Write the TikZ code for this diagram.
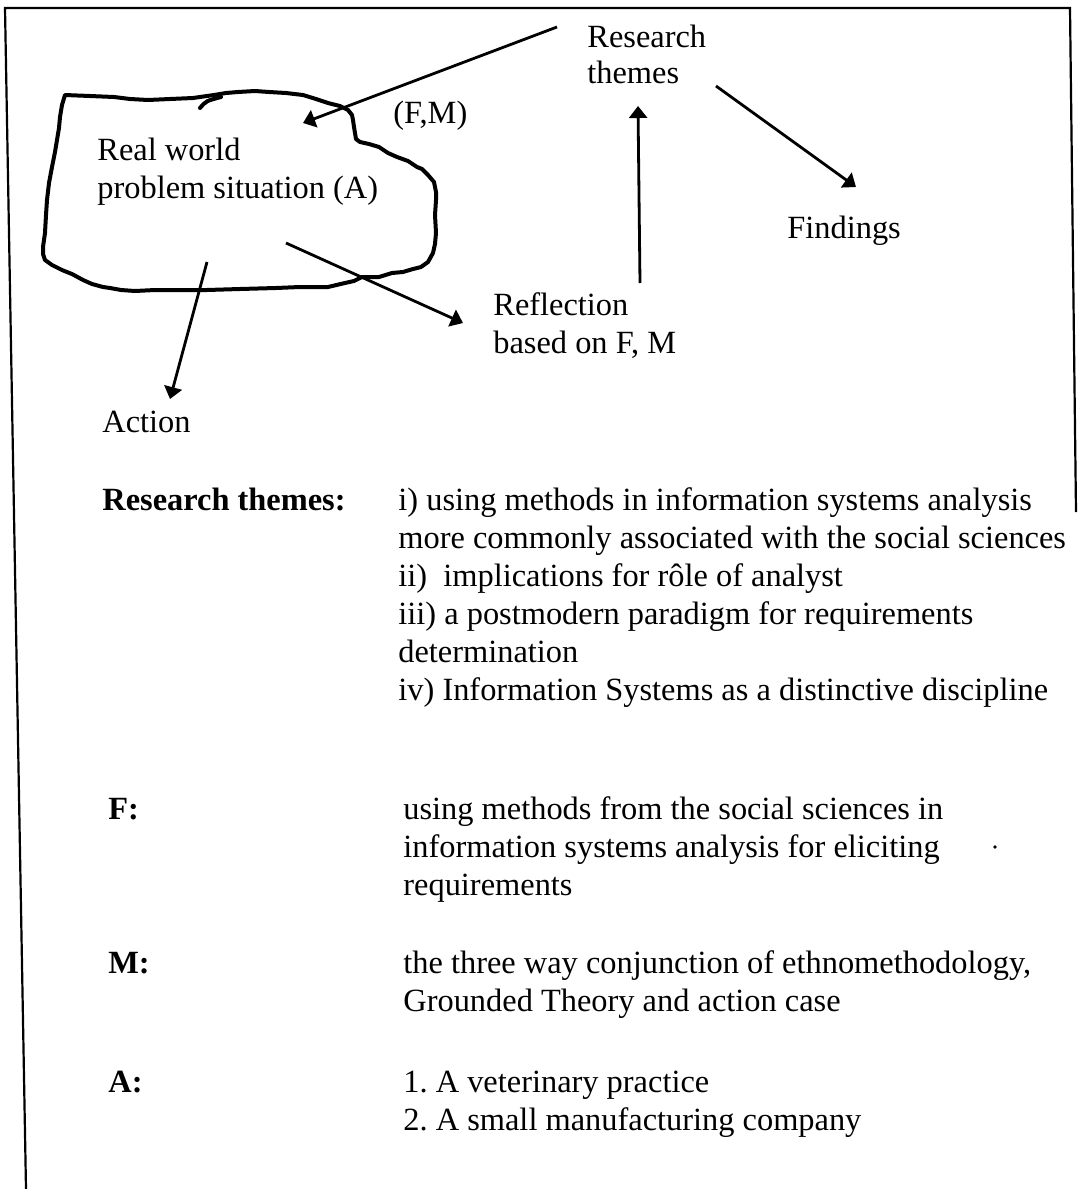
\documentclass[tikz,border=0pt]{standalone}
\usepackage{fontspec}
\setmainfont{Liberation Serif}
\usetikzlibrary{arrows.meta}
\frenchspacing
\begin{document}
\begin{tikzpicture}[x=0.5pt,y=-0.5pt,
  txt/.style={anchor=base west, inner sep=0pt, font=\fontsize{16.2}{19}\selectfont},
  lbl/.style={anchor=base west, inner sep=0pt, font=\fontsize{16.2}{19}\selectfont\bfseries},
  arr/.style={-{Triangle[length=6pt,width=9pt]}, line width=1.4pt},
  framebox/.style={line width=1.1pt, line join=miter},
  cloud/.style={line width=2pt, line join=round, line cap=round}]
\useasboundingbox (0,0) rectangle (1078,1189);

% open frame around the figure
\draw[framebox] (1076,512) -- (1070,8) -- (5,8) -- (26,1189);

% hand-drawn outline of the problem situation
\draw[cloud] (65,95) -- (90,96) -- (114,97) -- (130,99) -- (148,100) -- (170,99)
  -- (193,98) -- (214,95) -- (226,93) -- (238,92) -- (255,91) -- (269,92)
  -- (286,93) -- (303,95) -- (316,99) -- (328,103) -- (340,106) -- (348,110)
  -- (352,115) -- (353,120) -- (354,127) -- (355,133) -- (356,139) -- (360,142)
  -- (369,144) -- (379,147) -- (388,153) -- (397,157) -- (408,161) -- (417,167)
  -- (422,169) -- (428,175) -- (434,182) -- (436,192) -- (436,200) -- (435,215)
  -- (436,233) -- (435,244) -- (433,253) -- (428,262) -- (421,267) -- (413,269)
  -- (403,272) -- (392,273) -- (379,277) -- (362,277) -- (354,281) -- (345,283)
  -- (328,287) -- (300,287) -- (276,288) -- (240,289) -- (207,290) -- (180,290)
  -- (155,290) -- (135,291) -- (121,290) -- (110,288) -- (103,287) -- (92,284)
  -- (83,280) -- (72,274) -- (62,270) -- (52,265) -- (45,260) -- (43,254)
  -- (43,247) -- (44,240) -- (45,233) -- (46,215) -- (47,200) -- (49,183)
  -- (52,167) -- (55,152) -- (57,140) -- (59,128) -- (60,117) -- (62,105)
  -- cycle;
\draw[cloud] (200,108) .. controls (206,101) .. (221,97);

% diagram labels
\node[txt] (rt1) at (587,47) {Research};
\node[txt] (rt2) at (587,83) {themes};
\node[txt] (fm)  at (393,123) {(F,M)};
\node[txt] (rw1) at (97,160) {Real world};
\node[txt] (rw2) at (97,198) {problem situation (A)};
\node[txt] (fi)  at (787,238) {Findings};
\node[txt] (rf1) at (493,315) {Reflection};
\node[txt] (rf2) at (493,353) {based on F, M};
\node[txt] (ac)  at (102,432) {Action};

% arrow end points
\coordinate (fmS) at (557,27);  \coordinate (fmE) at (303,123);
\coordinate (fiS) at (716,86);  \coordinate (fiE) at (856,187);
\coordinate (upS) at (640,283); \coordinate (upE) at (638,106);
\coordinate (rfS) at (286,243); \coordinate (rfE) at (463,323);
\coordinate (acS) at (207,262); \coordinate (acE) at (170,399);

\draw[arr] (fmS) -- (fmE);
\draw[arr] (fiS) -- (fiE);
\draw[arr] (upS) -- (upE);
\draw[arr] (rfS) -- (rfE);
\draw[arr] (acS) -- (acE);

% key
\node[lbl] (kR) at (102,510) {Research themes:};
\node[txt] (r1) at (398,510) {i) using methods in information systems analysis};
\node[txt] (r2) at (398,548) {more commonly associated with the social sciences};
\node[txt] (r3) at (398,586) {ii)\ \ implications for rôle of analyst};
\node[txt] (r4) at (398,624) {iii) a postmodern paradigm for requirements};
\node[txt] (r5) at (398,662) {determination};
\node[txt] (r6) at (398,700) {iv) Information Systems as a distinctive discipline};

\node[lbl] (kF) at (108,819) {F:};
\node[txt] (f1) at (403,819) {using methods from the social sciences in};
\node[txt] (f2) at (403,857) {information systems analysis for eliciting};
\node[txt] (f3) at (403,895) {requirements};
\fill (995,847) circle (0.9pt);

\node[lbl] (kM) at (108,973) {M:};
\node[txt] (m1) at (403,973) {the three way conjunction of ethnomethodology,};
\node[txt] (m2) at (403,1011) {Grounded Theory and action case};

\node[lbl] (kA) at (108,1092) {A:};
\node[txt] (a1) at (403,1092) {1. A veterinary practice};
\node[txt] (a2) at (403,1130) {2. A small manufacturing company};
\end{tikzpicture}
\end{document}
